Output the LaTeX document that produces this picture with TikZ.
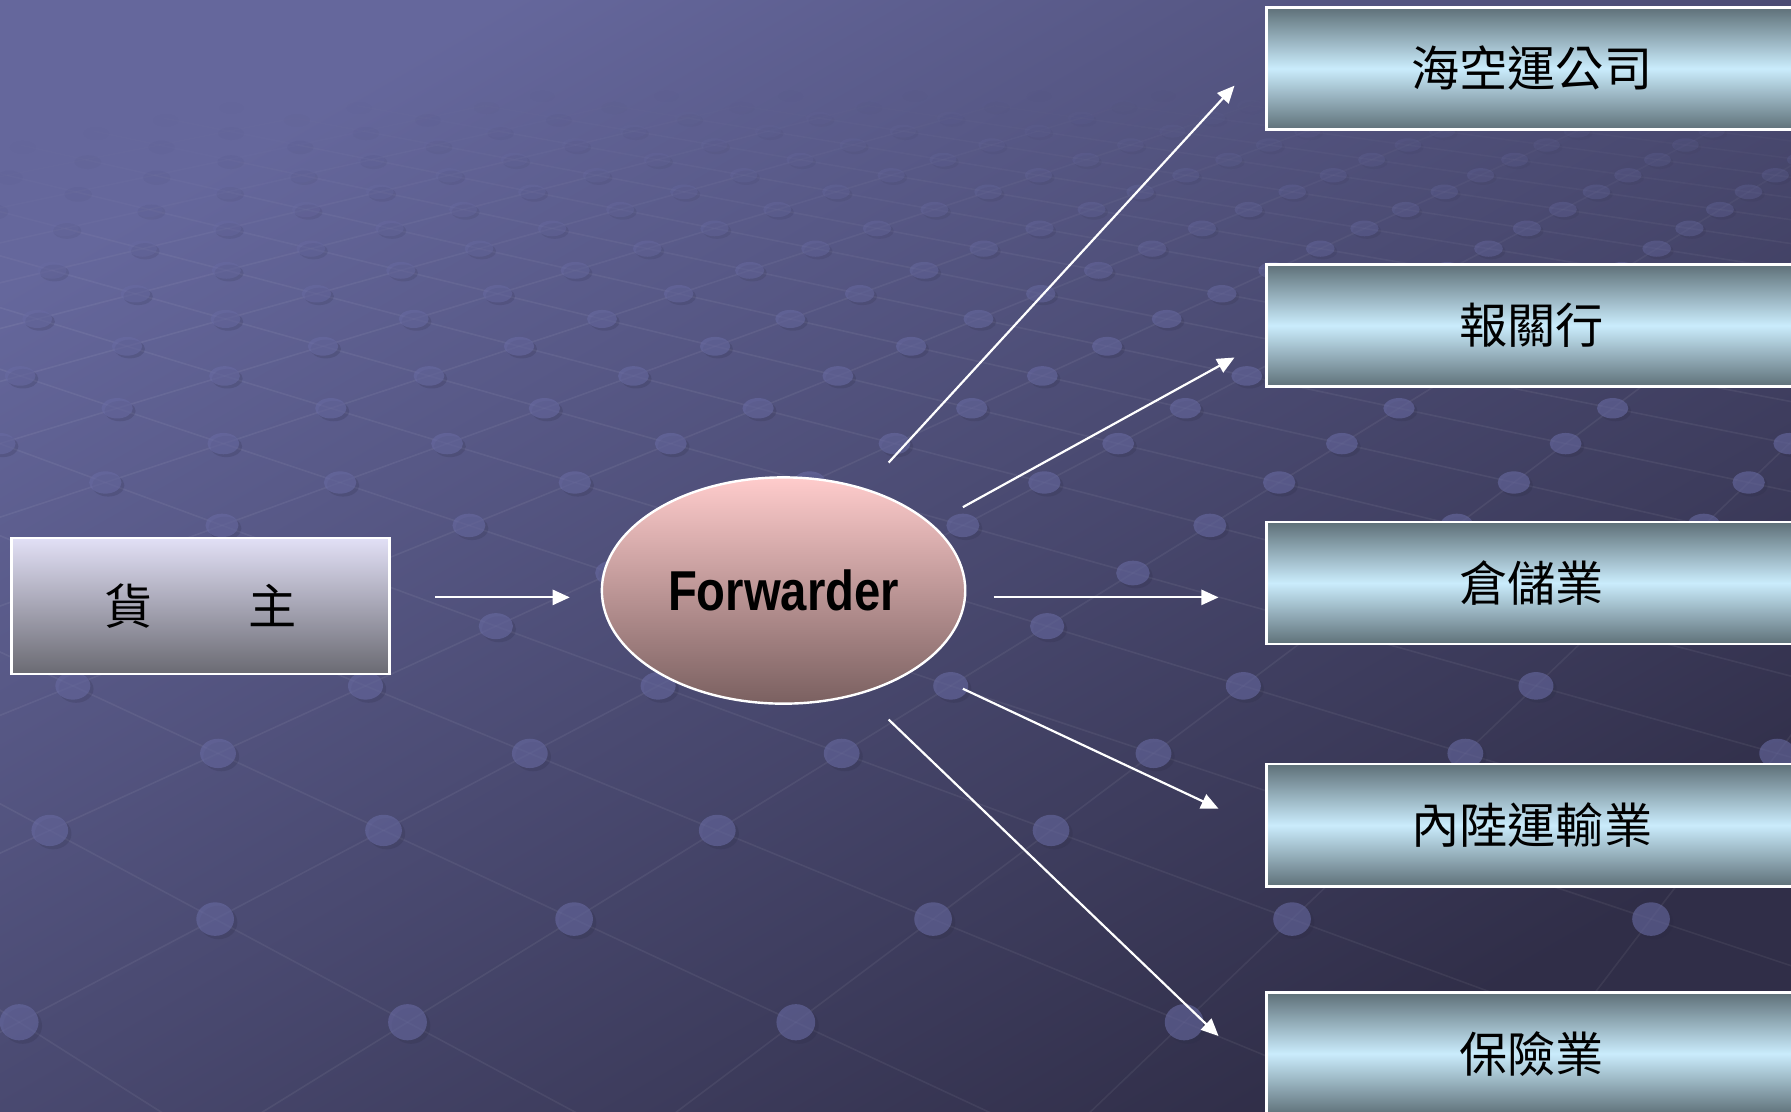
\documentclass[tikz,border=0pt]{standalone}
\usepackage{fontspec}
\usepackage{graphicx}
\setmainfont{Liberation Sans}
\newfontfamily\cjk{Noto Sans CJK TC}
\usetikzlibrary{arrows.meta,shapes.geometric}

\definecolor{bgtop}{RGB}{101,103,156}
\definecolor{bgbot}{RGB}{48,46,72}
\definecolor{dotc}{RGB}{104,106,162}
\definecolor{dotshade}{RGB}{40,40,64}
\definecolor{firmtop}{RGB}{226,224,246}
\definecolor{firmbot}{RGB}{106,106,114}
\definecolor{agenttop}{RGB}{255,204,204}
\definecolor{agentbot}{RGB}{122,96,96}
\definecolor{partdark}{RGB}{94,112,120}
\definecolor{partlight}{RGB}{202,236,252}

\begin{document}
\begin{tikzpicture}[x=0.01cm,y=-0.01cm,
  firm/.style={rectangle,draw=white,line width=0.6pt,top color=firmtop,bottom color=firmbot,
    minimum width=3.31cm,minimum height=1.19cm,inner sep=0pt,font=\cjk\fontsize{12}{14}\selectfont},
  agent/.style={ellipse,draw=white,line width=0.6pt,top color=agenttop,bottom color=agentbot,
    minimum width=3.18cm,minimum height=1.98cm,inner sep=0pt,font=\bfseries\fontsize{14}{16}\selectfont},
  partner/.style={rectangle,draw=white,line width=0.6pt,top color=partdark,bottom color=partdark,
    middle color=partlight,minimum width=4.64cm,minimum height=1.07cm,inner sep=0pt,
    font=\cjk\fontsize{12}{14}\selectfont},
  link/.style={draw=white,line width=0.55pt,-{Triangle[length=4.3pt,width=3.8pt]}},
  gridline/.style={draw=white,line width=0.4pt},
  griddot/.style={fill=dotc}]
  \useasboundingbox (0,0) rectangle (1568,973);
  \clip (0,0) rectangle (1568,973);

  %background
  \shade[top color=bgtop,bottom color=bgbot,shading angle=30] (0,0) rectangle (1568,973);

  %floor grid in perspective
  \foreach \k in {0,...,31}{
    \foreach \d in {-9,...,25}{
      \pgfmathtruncatemacro\odd{mod(\k+\d+100,2)}
      \ifnum\odd=0
        \pgfmathsetmacro\gz{1.596+0.156*\k}
        \pgfmathsetmacro\gzn{\gz+0.156}
        \pgfmathsetmacro\gxs{207.5+2079*(0.449+0.156*\d)/\gz}
        \pgfmathsetmacro\gys{-300+2280/\gz}
        \pgfmathsetmacro\gxa{207.5+2079*(0.449+0.156*(\d+1))/\gzn}
        \pgfmathsetmacro\gxb{207.5+2079*(0.449+0.156*(\d-1))/\gzn}
        \pgfmathsetmacro\gyn{-300+2280/\gzn}
        \pgfmathsetmacro\fade{max(0,min(1,(6.0-\gz)/2.2))*max(0,min(1,(\gys+0.35*\gxs-110)/170))}
        \pgfmathsetmacro\lop{0.06*\fade}
        \pgfmathsetmacro\dop{0.6*\fade}
        \pgfmathsetmacro\sop{0.18*\fade}
        \pgfmathsetmacro\rx{17*(1.9/\gz)^0.36}
        \pgfmathsetmacro\ry{\rx*min(1,1.7/\gz)^0.6}
        \pgfmathsetmacro\ox{0.18*\rx}
        \draw[gridline,opacity=\lop] (\gxs,\gys) -- (\gxa,\gyn) (\gxs,\gys) -- (\gxb,\gyn);
        \fill[dotshade,opacity=\sop] (\gxs+\ox,\gys+\ox) ellipse [x radius=\rx,y radius=\ry];
        \fill[griddot,opacity=\dop] (\gxs,\gys) ellipse [x radius=\rx,y radius=\ry];
      \fi
    }
  }

  %shipper and forwarder
  \node[firm] (shipper) at (175.5,530.5) {貨　　主};
  \node[agent] (fwd) at (686,517) {\scalebox{0.84}[1]{Forwarder}};

  %partners on the right
  \node[partner] (sea) at (1341,60) {海空運公司};
  \node[partner] (broker) at (1341,285) {報關行};
  \node[partner] (store) at (1341,510.5) {倉儲業};
  \node[partner] (inland) at (1341,722.5) {內陸運輸業};
  \node[partner] (insure) at (1341,922.5) {保險業};

  %arrows
  \draw[link] ([shift={(39,-7.5)}]shipper.east) -- ([shift={(-27,6)}]fwd.west);
  \draw[link] ([shift={(92,-112)}]fwd.center) -- ([shift={(-27,15)}]sea.west);
  \draw[link] ([shift={(157,-73)}]fwd.center) -- ([shift={(-27,28)}]broker.west);
  \draw[link] ([shift={(184,6)}]fwd.center) -- ([shift={(-41,12.5)}]store.west);
  \draw[link] ([shift={(157,86)}]fwd.center) -- ([shift={(-41,-14.5)}]inland.west);
  \draw[link] ([shift={(92,113)}]fwd.center) -- ([shift={(-41,-15.5)}]insure.west);
\end{tikzpicture}
\end{document}
